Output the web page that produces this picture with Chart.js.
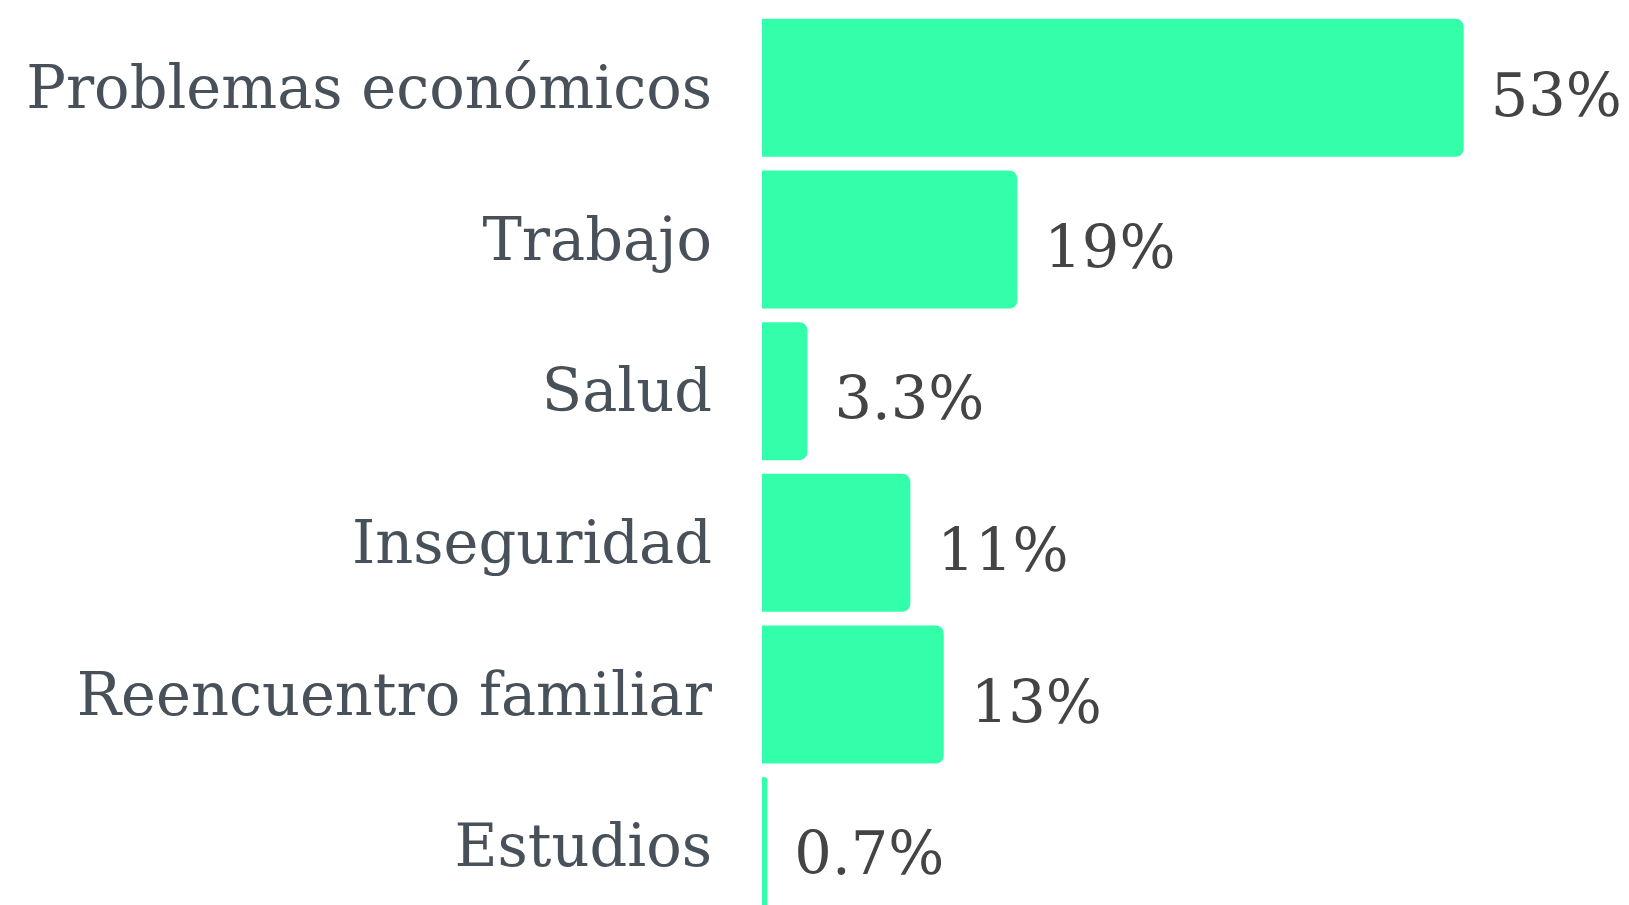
<!DOCTYPE html>
<html>
<head>
<meta charset="utf-8">
<script src="https://cdn.jsdelivr.net/npm/chart.js@4"></script>
<style>
  html, body { margin: 0; padding: 0; background: #fff; overflow: hidden; }
  #wrap { width: 1629px; height: 930px; position: relative; }
</style>
</head>
<body>
<div id="wrap"><canvas id="c"></canvas></div>
<script>
const categories = ["Problemas económicos", "Trabajo", "Salud", "Inseguridad", "Reencuentro familiar", "Estudios"];
const values = [52.5, 19.1, 3.4, 11.1, 13.6, 0.4];
const valueLabels = ["53%", "19%", "3.3%", "11%", "13%", "0.7%"];

const FONT = "'DejaVu Serif', 'Liberation Serif', serif";

const valueLabelPlugin = {
  id: 'valueLabels',
  afterDatasetsDraw(chart) {
    const ctx = chart.ctx;
    const meta = chart.getDatasetMeta(0);
    ctx.save();
    ctx.font = "59px " + FONT;
    ctx.fillStyle = "#444444";
    ctx.textAlign = "left";
    ctx.textBaseline = "middle";
    meta.data.forEach((bar, i) => {
      ctx.fillText(valueLabels[i], bar.x + 27, bar.y + 13);
    });
    ctx.restore();
  }
};

new Chart(document.getElementById('c'), {
  type: 'bar',
  data: {
    labels: categories,
    datasets: [{
      data: values,
      backgroundColor: '#33FFAA',
      borderWidth: 0,
      borderRadius: { topRight: 8, bottomRight: 8, topLeft: 0, bottomLeft: 0 },
      borderSkipped: 'start',
      barPercentage: 0.91,
      categoryPercentage: 1.0
    }]
  },
  options: {
    indexAxis: 'y',
    responsive: true,
    maintainAspectRatio: false,
    animation: false,
    layout: { padding: { top: 12, bottom: 8, left: 0, right: 65 } },
    plugins: { legend: { display: false }, tooltip: { enabled: false } },
    scales: {
      x: {
        min: 0, max: 60,
        display: false,
        grid: { display: false }
      },
      y: {
        grid: { display: false },
        border: { display: false },
        ticks: {
          padding: 42,
          labelOffset: 5,
          color: '#48505a',
          font: { family: FONT, size: 59 }
        },
        afterFit(scale) {
          scale.width = 762;
          scale.paddingTop = 0;
          scale.paddingBottom = 0;
        }
      }
    }
  },
  plugins: [valueLabelPlugin]
});
</script>
</body>
</html>
